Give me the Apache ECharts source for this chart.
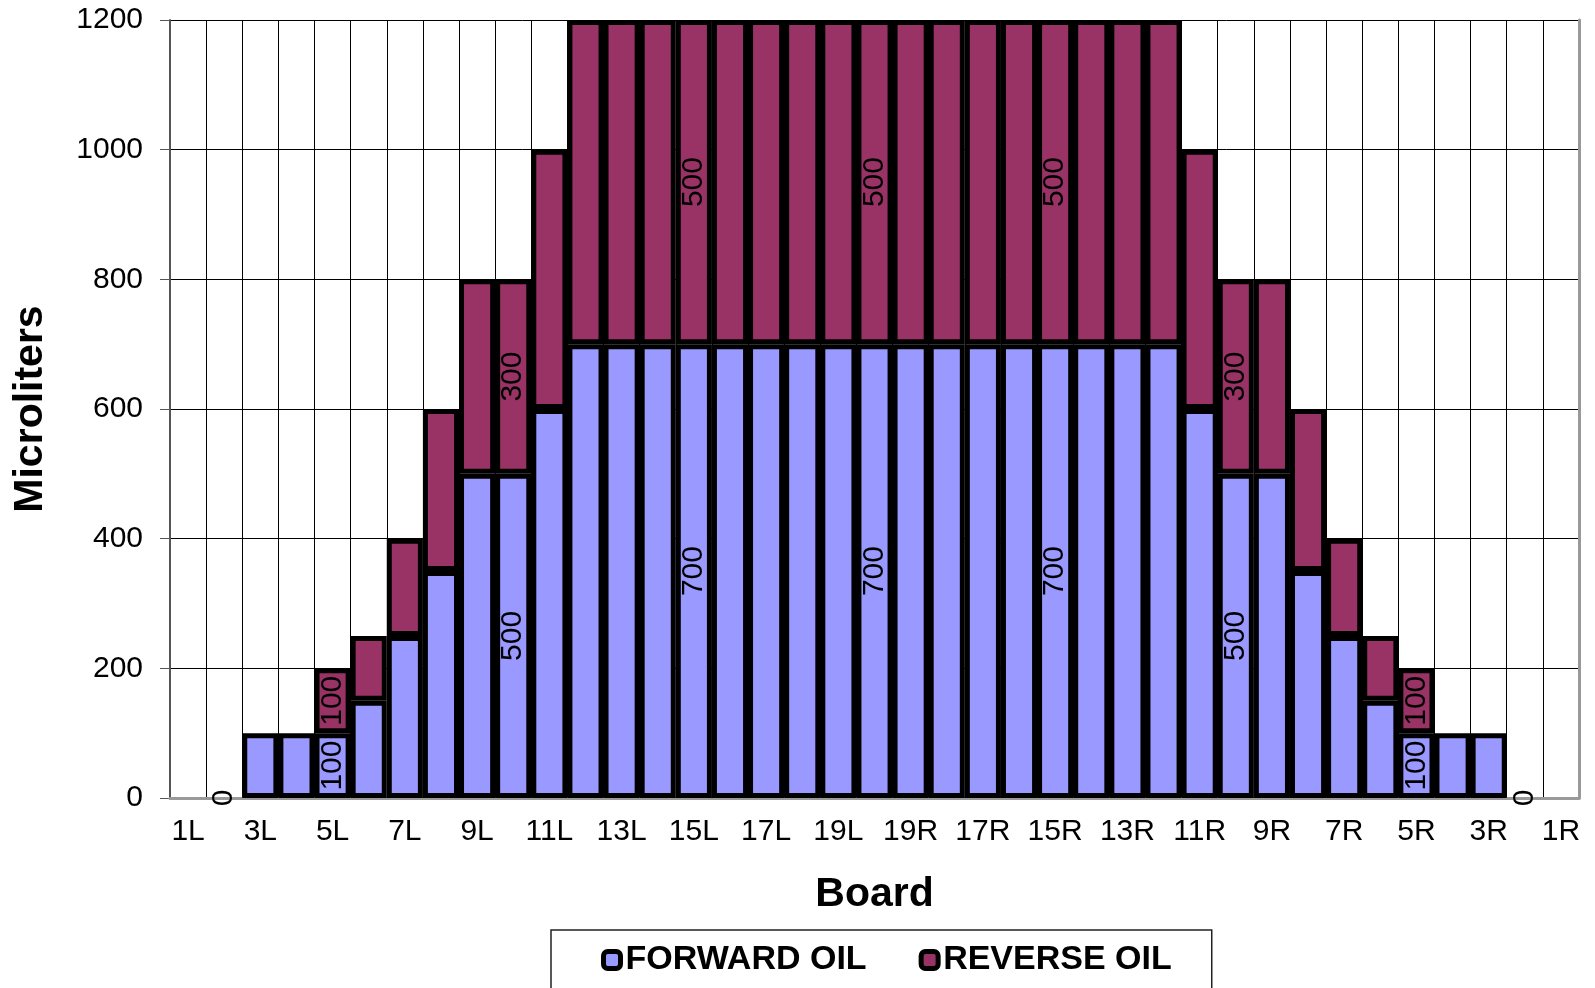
<!DOCTYPE html>
<html>
<head>
    <meta charset="UTF-8">
    <title>Oil by board</title>
    <script src="https://cdn.jsdelivr.net/npm/echarts@6/dist/echarts.min.js"></script>
    <style>
        html, body { margin: 0; padding: 0; background: #fff; }
        #chart { width: 1595px; height: 988px; }
    </style>
</head>
<body>
<div id="chart"></div>
<script>
    // boards, left side then right side
    var boards = ['1L', '2L', '3L', '4L', '5L', '6L', '7L', '8L', '9L', '10L',
        '11L', '12L', '13L', '14L', '15L', '16L', '17L', '18L', '19L', '20',
        '19R', '18R', '17R', '16R', '15R', '14R', '13R', '12R', '11R', '10R',
        '9R', '8R', '7R', '6R', '5R', '4R', '3R', '2R', '1R'];

    var forwardOil = [null, 0, 100, 100, 100, 150, 250, 350, 500, 500,
        600, 700, 700, 700, 700, 700, 700, 700, 700, 700,
        700, 700, 700, 700, 700, 700, 700, 700, 600, 500,
        500, 350, 250, 150, 100, 100, 100, 0, null];

    var reverseOil = [null, null, null, null, 100, 100, 150, 250, 300, 300,
        400, 500, 500, 500, 500, 500, 500, 500, 500, 500,
        500, 500, 500, 500, 500, 500, 500, 500, 400, 300,
        300, 250, 150, 100, 100, null, null, null, null];

    // bars that carry a value label
    var labelledBoards = [4, 9, 14, 19, 24, 29, 34];

    var yTicks = { min: 0, max: 1200, interval: 200 };

    var font = "'Liberation Sans', Arial, sans-serif";

    function buildData(values) {
        return values.map(function (v, i) {
            if (v === null) return '-';
            var item = { value: v, label: { show: labelledBoards.indexOf(i) >= 0 || v === 0 } };
            if (v === 0) item.itemStyle = { borderWidth: 0 };
            return item;
        });
    }

    var barLabel = {
        show: false,
        position: 'inside',
        rotate: 90,
        color: '#000',
        fontSize: 30,
        fontFamily: font,
        textBorderWidth: 0
    };

    var chart = echarts.init(document.getElementById('chart'));
    chart.setOption({
        animation: false,
        grid: { left: 170, right: 16, top: 20, bottom: 190 },
        legend: {
            left: 551,
            top: 930,
            padding: [13, 40, 24, 50],
            borderColor: '#222',
            borderWidth: 1.5,
            itemWidth: 17,
            itemHeight: 17,
            itemGap: 52,
            itemStyle: { borderColor: '#000', borderWidth: 5 },
            textStyle: { fontSize: 34, fontWeight: 'bold', fontFamily: font, color: '#000' },
            data: ['FORWARD OIL', 'REVERSE OIL']
        },
        xAxis: [{
            type: 'category',
            data: boards,
            name: 'Board',
            nameLocation: 'middle',
            nameGap: 76,
            nameTextStyle: { fontSize: 41, fontWeight: 'bold', fontFamily: font, color: '#000' },
            axisLine: { lineStyle: { color: '#333', width: 2 } },
            axisTick: { interval: 0, length: 8, lineStyle: { color: '#666' } },
            axisLabel: { interval: 1, fontSize: 30, fontFamily: font, color: '#000', margin: 19 },
            splitLine: { show: true, interval: 0, lineStyle: { color: '#000', width: 1 } }
        }, {
            type: 'category',
            data: boards,
            position: 'top',
            z: 1,
            axisLine: { lineStyle: { color: '#999', width: 3 } },
            axisTick: { show: false },
            axisLabel: { show: false },
            splitLine: { show: false }
        }],
        yAxis: [{
            type: 'value',
            min: yTicks.min,
            max: yTicks.max,
            interval: yTicks.interval,
            name: 'Microliters',
            nameLocation: 'middle',
            nameGap: 119,
            nameTextStyle: { fontSize: 41, fontWeight: 'bold', fontFamily: font, color: '#000' },
            axisLine: { show: true, lineStyle: { color: '#555', width: 2 } },
            axisTick: { show: true, length: 10, lineStyle: { color: '#555' } },
            axisLabel: {
                fontSize: 30, fontFamily: font, color: '#000', margin: 27,
                formatter: function (v) { return String(v); }
            },
            splitLine: { lineStyle: { color: '#000', width: 1 } }
        }, {
            type: 'value',
            min: yTicks.min,
            max: yTicks.max,
            interval: yTicks.interval,
            position: 'right',
            z: 1,
            axisLine: { show: true, lineStyle: { color: '#999', width: 3 } },
            axisTick: { show: false },
            axisLabel: { show: false },
            splitLine: { show: false }
        }],
        series: [
            {
                name: 'FORWARD OIL',
                type: 'bar',
                stack: 'oil',
                barCategoryGap: '0%',
                barGap: '0%',
                data: buildData(forwardOil),
                itemStyle: { color: '#9999FF', borderColor: '#000', borderWidth: 5 },
                label: barLabel,
                emphasis: { disabled: true }
            },
            {
                name: 'REVERSE OIL',
                type: 'bar',
                stack: 'oil',
                barCategoryGap: '0%',
                barGap: '0%',
                data: buildData(reverseOil),
                itemStyle: { color: '#993366', borderColor: '#000', borderWidth: 5 },
                label: barLabel,
                emphasis: { disabled: true }
            }
        ]
    });
</script>
</body>
</html>
